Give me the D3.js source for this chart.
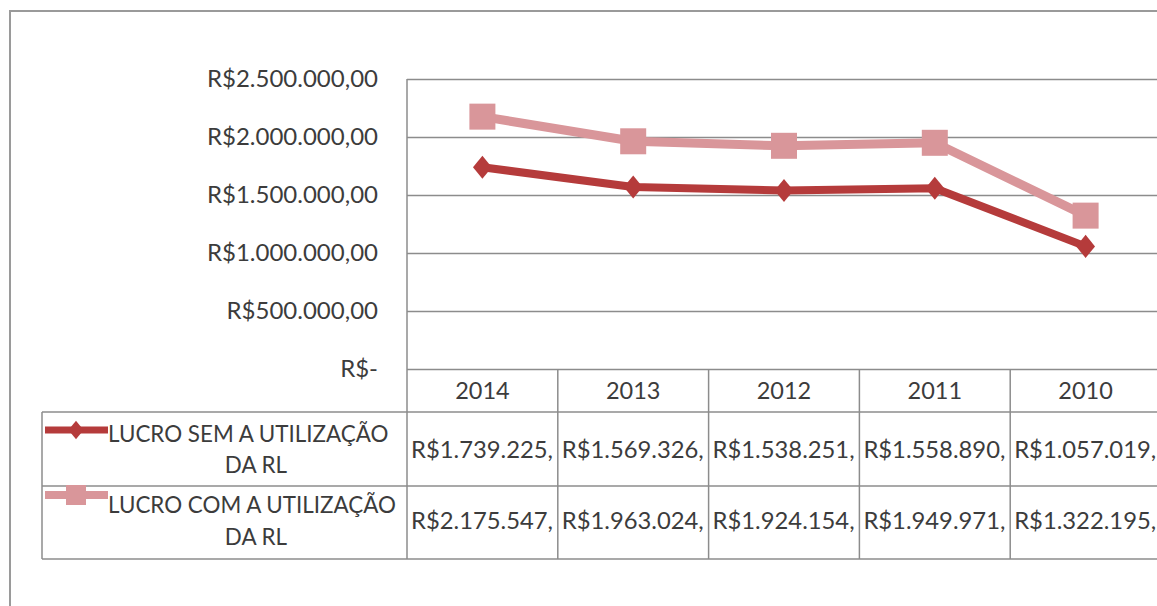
<!DOCTYPE html>
<html>
<head>
<meta charset="utf-8">
<script src="https://cdn.jsdelivr.net/npm/d3@7"></script>
<style>
    body { margin: 0; background: #fff; }
    svg { display: block; }
    text { font-family: Lato, "Liberation Sans", sans-serif; fill: #3c3c3c; }
</style>
</head>
<body>
<div id="chart"></div>
<script>
const years = ["2014", "2013", "2012", "2011", "2010"];
const semRL = [1739225, 1569326, 1538251, 1558890, 1057019];
const comRL = [2175547, 1963024, 1924154, 1949971, 1322195];
const seriesNames = [["LUCRO SEM A UTILIZAÇÃO", "DA RL"], ["LUCRO COM A UTILIZAÇÃO", "DA RL"]];
const yTicks = [0, 500000, 1000000, 1500000, 2000000, 2500000];

const dim = { width: 1157, height: 606 };
const plot = { left: 407, right: 1161, top: 79, bottom: 369 };
const rows = { header: 412, row1: 486, row2: 559, legendLeft: 42 };

const colors = ["#b53b3b", "#d9969a"];

const br = d3.formatLocale({
    decimal: ",",
    thousands: ".",
    grouping: [3],
    currency: ["R$", ""]
});
const tickFmt = d => d === 0 ? "R$-" : br.format("$,.2f")(d);
const cellFmt = d => br.format("$,.0f")(d) + ",";

const svg = d3.select("#chart").append("svg")
    .attr("width", dim.width)
    .attr("height", dim.height);

// outer frame
svg.append("path")
    .attr("d", `M10,${dim.height + 5} V11 H${dim.width + 5}`)
    .attr("fill", "none")
    .attr("stroke", "#9a9a9a")
    .attr("stroke-width", 2);

const xScale = d3.scaleBand()
    .domain(years)
    .range([plot.left, plot.right]);

const yScale = d3.scaleLinear()
    .domain([0, 2500000])
    .range([plot.bottom, plot.top]);

// gridlines + labels
const yAxis = svg.append("g")
    .attr("class", "yAxis")
    .attr("transform", `translate(${plot.left},0)`)
    .call(d3.axisLeft(yScale)
        .tickValues(yTicks)
        .tickSize(-(dim.width - plot.left + 10))
        .tickPadding(29)
        .tickFormat(tickFmt));
yAxis.select(".domain").remove();
yAxis.selectAll(".tick line")
    .attr("stroke", "#8c8c8c")
    .attr("stroke-width", 1.5);
yAxis.selectAll(".tick text")
    .style("font-size", "24px")
    .attr("fill", "#3c3c3c");

// table lines
const gridStroke = "#8c8c8c";
const lines = svg.append("g")
    .attr("stroke", gridStroke)
    .attr("stroke-width", 1.5);

lines.append("line")
    .attr("x1", plot.left).attr("x2", plot.left)
    .attr("y1", plot.top).attr("y2", rows.row2);

[rows.header, rows.row1, rows.row2].forEach(y => {
    lines.append("line")
        .attr("x1", rows.legendLeft).attr("x2", dim.width + 5)
        .attr("y1", y).attr("y2", y);
});
lines.append("line")
    .attr("x1", rows.legendLeft).attr("x2", rows.legendLeft)
    .attr("y1", rows.header).attr("y2", rows.row2);

years.forEach(yr => {
    lines.append("line")
        .attr("x1", xScale(yr) + xScale.bandwidth())
        .attr("x2", xScale(yr) + xScale.bandwidth())
        .attr("y1", plot.bottom).attr("y2", rows.row2);
});

// header years
svg.selectAll(".yearLabel")
    .data(years)
    .enter().append("text")
    .attr("class", "yearLabel")
    .attr("x", d => xScale(d) + xScale.bandwidth() / 2)
    .attr("y", 399)
    .attr("text-anchor", "middle")
    .style("font-size", "23.5px")
    .text(d => d);

// value cells
[semRL, comRL].forEach((vals, i) => {
    svg.selectAll(".cell" + i)
        .data(vals)
        .enter().append("text")
        .attr("class", "cell" + i)
        .attr("x", (d, j) => xScale(years[j]) + 4)
        .attr("y", i === 0 ? 458 : 529)
        .style("font-size", "23.8px")
        .text(d => cellFmt(d));
});

// lines & markers
const line = d3.line()
    .x((d, j) => xScale(years[j]) + xScale.bandwidth() / 2)
    .y(d => yScale(d));

svg.append("path")
    .datum(comRL)
    .attr("d", line)
    .attr("fill", "none")
    .attr("stroke", colors[1])
    .attr("stroke-width", 9)
    .attr("stroke-linejoin", "round");

svg.selectAll(".sq")
    .data(comRL)
    .enter().append("rect")
    .attr("class", "sq")
    .attr("x", (d, j) => xScale(years[j]) + xScale.bandwidth() / 2 - 13)
    .attr("y", d => yScale(d) - 13)
    .attr("width", 26)
    .attr("height", 26)
    .attr("fill", colors[1]);

svg.append("path")
    .datum(semRL)
    .attr("d", line)
    .attr("fill", "none")
    .attr("stroke", colors[0])
    .attr("stroke-width", 8)
    .attr("stroke-linejoin", "round");

const diamond = d3.symbol().type(d3.symbolDiamond2).size(280);
svg.selectAll(".dm")
    .data(semRL)
    .enter().append("path")
    .attr("class", "dm")
    .attr("transform", (d, j) => `translate(${xScale(years[j]) + xScale.bandwidth() / 2},${yScale(d)}) scale(0.9,1.1)`)
    .attr("d", diamond)
    .attr("fill", colors[0]);

// legend keys + names
const legendY = [430, 495];
seriesNames.forEach((name, i) => {
    const g = svg.append("g");
    g.append("line")
        .attr("x1", 45).attr("x2", 108)
        .attr("y1", legendY[i]).attr("y2", legendY[i])
        .attr("stroke", colors[i])
        .attr("stroke-width", i === 0 ? 7 : 8);
    if (i === 0) {
        g.append("path")
            .attr("transform", `translate(76,${legendY[i]}) scale(0.9,1.1)`)
            .attr("d", d3.symbol().type(d3.symbolDiamond2).size(180))
            .attr("fill", colors[i]);
    } else {
        g.append("rect")
            .attr("x", 66).attr("y", legendY[i] - 10)
            .attr("width", 20).attr("height", 20)
            .attr("fill", colors[i]);
    }
    g.append("text")
        .attr("x", 108)
        .attr("y", i === 0 ? 442 : 513)
        .style("font-size", "22.4px")
        .text(name[0]);
    g.append("text")
        .attr("x", 256)
        .attr("y", i === 0 ? 473 : 545)
        .attr("text-anchor", "middle")
        .style("font-size", "22.4px")
        .text(name[1]);
});
</script>
</body>
</html>
